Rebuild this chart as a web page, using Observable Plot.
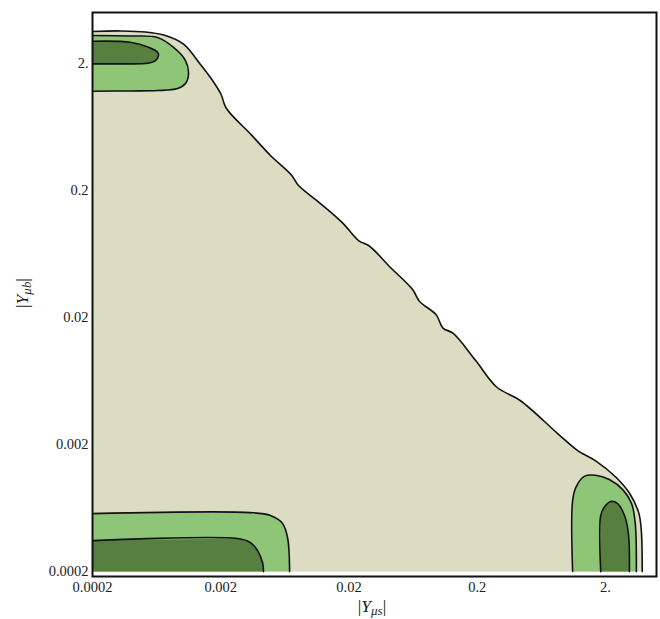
<!DOCTYPE html>
<html><head><meta charset="utf-8">
<script src="https://cdn.jsdelivr.net/npm/d3@7"></script>
<script src="https://cdn.jsdelivr.net/npm/@observablehq/plot@0.6"></script>
<style>body{margin:0;background:#fff}</style>
</head><body><div id="chart"></div>
<script>
// Tick values and labels
const xTicks = [0.0002, 0.002, 0.02, 0.2, 2];
const xTickLabels = ["0.0002", "0.002", "0.02", "0.2", "2."];
const yTicks = [0.0002, 0.002, 0.02, 0.2, 2];
const yTickLabels = ["0.0002", "0.002", "0.02", "0.2", "2."];

// Contour boundaries, as [log10|Yμs|, log10|Yμb|]
const outerContour = [
  [-3.699,0.550],[-3.481,0.554],[-3.286,0.546],[-3.130,0.518],[-2.989,0.450],[-2.857,0.290],
  [-2.763,0.164],[-2.696,0.054],[-2.657,-0.052],[-2.460,-0.264],[-2.311,-0.426],[-2.147,-0.581],
  [-2.094,-0.660],[-1.921,-0.804],[-1.753,-0.952],[-1.622,-1.097],[-1.543,-1.136],[-1.375,-1.307],
  [-1.203,-1.480],[-1.150,-1.572],[-1.019,-1.679],[-0.966,-1.784],[-0.888,-1.824],[-0.711,-2.039],
  [-0.548,-2.247],[-0.364,-2.353],[-0.072,-2.613],[0.084,-2.747],[0.222,-2.826],[0.385,-2.959],
  [0.490,-3.085],[0.560,-3.235],[0.580,-3.369],[0.588,-3.699]
];
const outerCorners = [[-3.699,-3.699]];

const topLeftLight = [
  [-3.699,0.518],[-3.403,0.514],[-3.192,0.502],[-3.067,0.424],[-2.974,0.321],[-2.950,0.219],
  [-2.974,0.140],[-3.036,0.101],[-3.192,0.085],[-3.403,0.082],[-3.699,0.080]
];
const topLeftDark = [
  [-3.699,0.473],[-3.403,0.465],[-3.262,0.426],[-3.192,0.387],[-3.184,0.361],[-3.208,0.321],
  [-3.270,0.300],[-3.457,0.295],[-3.699,0.295]
];
const bottomLeftLight = [
  [-3.699,-3.243],[-2.467,-3.235],[-2.311,-3.258],[-2.217,-3.321],[-2.178,-3.431],[-2.162,-3.699]
];
const bottomLeftDark = [
  [-3.699,-3.455],[-2.568,-3.439],[-2.467,-3.471],[-2.412,-3.534],[-2.373,-3.628],[-2.365,-3.699]
];
const bottomLeftCorners = [[-3.699,-3.699]];
const bottomRightLight = [
  [0.045,-3.699],[0.045,-3.140],[0.073,-3.030],[0.139,-2.948],[0.222,-2.941],[0.331,-2.975],
  [0.439,-3.058],[0.505,-3.164],[0.533,-3.317],[0.542,-3.699]
];
const bottomRightDark = [
  [0.264,-3.699],[0.264,-3.258],[0.290,-3.195],[0.342,-3.148],[0.396,-3.164],[0.451,-3.262],
  [0.480,-3.400],[0.488,-3.699]
];

const colors = {tan: "#dcdcc2", light: "#8fc577", dark: "#567f40"};

const toPts = arr => arr.map(([a, b]) => ({x: 10 ** a, y: 10 ** b}));

const fills = [
  [outerContour.concat(outerCorners), colors.tan],
  [topLeftLight, colors.light],
  [bottomLeftLight.concat(bottomLeftCorners), colors.light],
  [bottomRightLight, colors.light],
  [topLeftDark, colors.dark],
  [bottomLeftDark.concat(bottomLeftCorners), colors.dark],
  [bottomRightDark, colors.dark]
];
const strokes = [outerContour, topLeftLight, bottomLeftLight, bottomRightLight, topLeftDark, bottomLeftDark, bottomRightDark];

const marks = [];
for (const [pts, c] of fills) marks.push(Plot.line(toPts(pts), {x: "x", y: "y", fill: c, stroke: "none", curve: "linear", clip: true}));
for (const pts of strokes) marks.push(Plot.line(toPts(pts), {x: "x", y: "y", stroke: "#111", strokeWidth: 1.6, curve: "catmull-rom", clip: true}));
marks.push(Plot.frame({stroke: "#111", strokeWidth: 2}));

const plot = Plot.plot({
  width: 660, height: 619,
  marginLeft: 92, marginRight: 4, marginTop: 12, marginBottom: 43,
  style: {fontFamily: "Liberation Serif", fontSize: "14.5px", background: "white", color: "#222"},
  x: {type: "log", domain: [0.0002, 5], ticks: xTicks, tickFormat: d => xTickLabels[xTicks.indexOf(d)], tickSize: 0, tickPadding: 5, label: null},
  y: {type: "log", domain: [0.000183, 5], ticks: yTicks, tickFormat: d => yTickLabels[yTicks.indexOf(d)], tickSize: 0, tickPadding: 4, label: null},
  marks
});
document.getElementById("chart").appendChild(plot);

const svg = d3.select(plot);
const xl = svg.append("text").attr("x", 372).attr("y", 612).attr("text-anchor", "middle")
  .attr("font-family", "Liberation Serif").attr("font-size", 17.5).attr("fill", "#222");
xl.append("tspan").text("|");
xl.append("tspan").attr("font-style", "italic").text("Y");
xl.append("tspan").attr("font-style", "italic").attr("font-size", 13).attr("dy", 3).text("μs");
xl.append("tspan").attr("dy", -3).text("|");

const yl = svg.append("text").attr("transform", "translate(28,293) rotate(-90)").attr("text-anchor", "middle")
  .attr("font-family", "Liberation Serif").attr("font-size", 17.5).attr("fill", "#222");
yl.append("tspan").text("|");
yl.append("tspan").attr("font-style", "italic").text("Y");
yl.append("tspan").attr("font-style", "italic").attr("font-size", 13).attr("dy", 3).text("μb");
yl.append("tspan").attr("dy", -3).text("|");
</script>
</body></html>
